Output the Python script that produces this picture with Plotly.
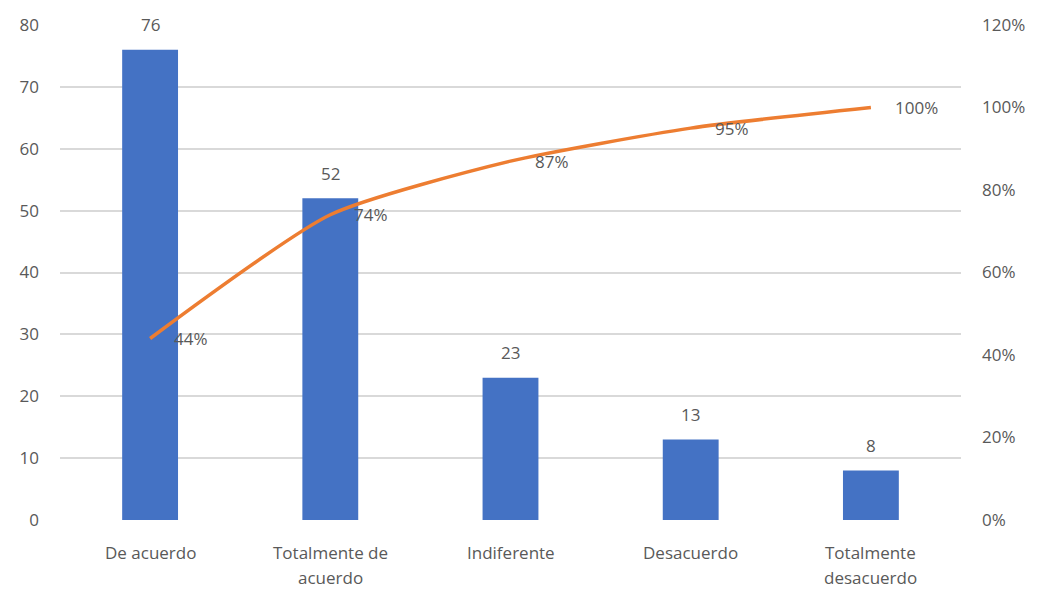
import plotly.graph_objects as go

# Survey responses, sorted for a Pareto view
categories = ["De acuerdo", "Totalmente de<br>acuerdo", "Indiferente", "Desacuerdo", "Totalmente<br>desacuerdo"]
counts = [76, 52, 23, 13, 8]
cumulative_pct = [44, 74, 87, 95, 100]

left_ticks = list(range(0, 81, 10))
right_ticks = list(range(0, 121, 20))

text_gray = "#595959"
font_family = "Open Sans, Liberation Sans, Arial, sans-serif"
fsize = 17

fig = go.Figure()

fig.add_trace(go.Bar(
    x=categories,
    y=counts,
    marker=dict(color="#4472C4", line=dict(width=0)),
    width=0.31,
    hoverinfo="skip",
    yaxis="y",
))

fig.add_trace(go.Scatter(
    x=categories,
    y=cumulative_pct,
    mode="lines",
    line=dict(color="#ED7D31", width=3.5, shape="spline", smoothing=0.6),
    hoverinfo="skip",
    yaxis="y2",
))

# Count labels above each bar
for c, v in zip(categories, counts):
    fig.add_annotation(
        x=c, y=v, yref="y", text=str(v), showarrow=False,
        yshift=25, font=dict(family=font_family, size=fsize, color=text_gray),
    )

# Cumulative percentage labels to the right of each line point
for c, p in zip(categories, cumulative_pct):
    fig.add_annotation(
        x=c, y=p, yref="y2", text=f"{p}%", showarrow=False,
        xanchor="left", xshift=22, yshift=0,
        font=dict(family=font_family, size=fsize, color=text_gray),
    )

# Category labels under the axis, one annotation per text line
for c in categories:
    for i, part in enumerate(c.split("<br>")):
        fig.add_annotation(
            x=c, y=0, yref="paper", text=part, showarrow=False,
            yanchor="middle", yshift=-32 - 25 * i,
            font=dict(family=font_family, size=fsize, color=text_gray),
        )

fig.update_layout(
    width=1037,
    height=591,
    margin=dict(l=60, r=76, t=25, b=71),
    paper_bgcolor="white",
    plot_bgcolor="white",
    showlegend=False,
    bargap=0.69,
    font=dict(family=font_family, size=fsize, color=text_gray),
    xaxis=dict(
        showgrid=False,
        showline=False,
        zeroline=False,
        ticks="",
        showticklabels=False,
    ),
    yaxis=dict(
        range=[0, 80],
        tickvals=left_ticks,
        showgrid=True,
        gridcolor="#D9D9D9",
        gridwidth=1.5,
        zeroline=False,
        showline=False,
        ticks="",
        tickfont=dict(size=fsize, color=text_gray),
        ticklabelstandoff=20,
    ),
    yaxis2=dict(
        range=[0, 120],
        tickvals=right_ticks,
        ticktext=[f"{t}%" for t in right_ticks],
        overlaying="y",
        side="right",
        showgrid=False,
        zeroline=False,
        showline=False,
        ticks="",
        tickfont=dict(size=fsize, color=text_gray),
        ticklabelstandoff=20,
    ),
)

fig.write_html("out.html")
